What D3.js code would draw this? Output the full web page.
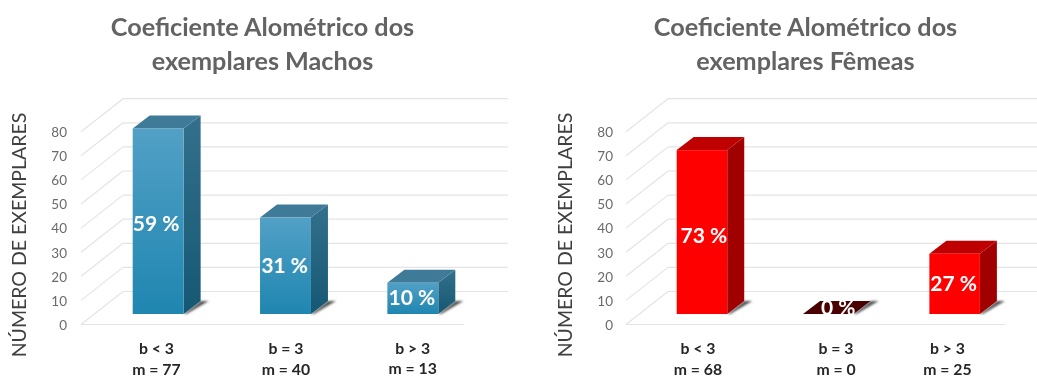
<!DOCTYPE html>
<html>
<head>
<meta charset="utf-8">
<script src="https://cdn.jsdelivr.net/npm/d3@7"></script>
<style>
  body { margin: 0; background: #fff; }
  svg { display: block; filter: blur(0.4px); }
  text { font-family: Lato, "Open Sans", sans-serif; }
</style>
</head>
<body>
<div id="grafico"></div>
<script>
// Datos de los dos paneles
var categorias = ["b < 3", "b = 3", "b > 3"];
var machosValores = [77, 40, 13];
var femeasValores = [68, 0, 25];
var machosEtiquetas = ["m = 77", "m = 40", "m = 13"];
var femeasEtiquetas = ["m = 68", "m = 0", "m = 25"];
var machosPorcentajes = ["59 %", "31 %", "10 %"];
var femeasPorcentajes = ["73 %", "0 %", "27 %"];
var machosTitulo = ["Coeficiente Alométrico dos", "exemplares Machos"];
var femeasTitulo = ["Coeficiente Alométrico dos", "exemplares Fêmeas"];
var ticksY = [0, 10, 20, 30, 40, 50, 60, 70, 80];
var lineasFondo = [0, 10, 20, 30, 40, 50, 60, 70, 80];
var tituloEjeY = "NÚMERO DE EXEMPLARES";

var svg = d3.select("#grafico").append("svg").attr("width", 1037).attr("height", 376);
var defs = svg.append("defs");

function degradado(id, arriba, abajo) {
    var g = defs.append("linearGradient").attr("id", id)
        .attr("x1", 0).attr("y1", 0).attr("x2", 0).attr("y2", 1);
    g.append("stop").attr("offset", "0%").attr("stop-color", arriba);
    g.append("stop").attr("offset", "100%").attr("stop-color", abajo);
}
degradado("azulFrente", "#52a0c6", "#1f86b0");
degradado("azulLado", "#33708c", "#155873");
defs.append("filter").attr("id", "difuso").append("feGaussianBlur").attr("stdDeviation", 1);

// Profundidad de la perspectiva
var fondoX = 42, fondoY = 33;
var barraX = 17, barraY = 13;

function panel(config) {
    var g = svg.append("g").attr("transform", "translate(" + config.x + ",0)");

    var xBarras = d3.scaleBand().domain(categorias).range(config.rangoBarras)
        .paddingInner(0.6).paddingOuter(0.3);
    var y = d3.scaleLinear().domain([0, 80]).range([314, 121.2]);

    var frenteDy = 10.5;
    var atrasDy = frenteDy - fondoY;

    // Cuadrícula: pared lateral, pared de fondo y borde del suelo
    g.selectAll(".diagonal").data(lineasFondo).enter().append("line")
        .attr("x1", 0).attr("y1", d => y(d) + frenteDy)
        .attr("x2", fondoX).attr("y2", d => y(d) + atrasDy)
        .attr("stroke", "#e4e4e4").attr("stroke-width", 1.2);
    g.selectAll(".fondo").data(lineasFondo).enter().append("line")
        .attr("x1", fondoX).attr("y1", d => y(d) + atrasDy)
        .attr("x2", config.finFondo).attr("y2", d => y(d) + atrasDy)
        .attr("stroke", "#e4e4e4").attr("stroke-width", 1.2);
    g.append("line")
        .attr("x1", 0).attr("y1", y(0) + frenteDy)
        .attr("x2", config.finSuelo).attr("y2", y(0) + frenteDy)
        .attr("stroke", "#e4e4e4").attr("stroke-width", 1.2);

    // Eje Y
    var ejeY = d3.axisLeft(d3.scaleLinear().domain([0, 80]).range([y(0) + frenteDy + 0.5, y(80) + frenteDy + 0.5]))
        .tickValues(ticksY).tickSize(0).tickPadding(0);
    var ejeG = g.append("g").attr("transform", "translate(" + config.xTicks + ",0)").call(ejeY);
    ejeG.select(".domain").remove();
    ejeG.selectAll("text").attr("fill", "#6a6a6a").style("font-size", "13.5px");

    g.append("text")
        .attr("transform", "translate(" + config.xTituloEje + ",235) rotate(-90)")
        .attr("text-anchor", "middle")
        .attr("fill", "#404040")
        .style("font-size", "19.5px")
        .text(tituloEjeY);

    // Barras
    var barras = g.selectAll(".barra").data(config.valores).enter().append("g").attr("class", "barra");

    // Sombra sobre el suelo
    barras.append("polygon")
        .attr("points", (d, i) => {
            var x1 = xBarras(categorias[i]) + xBarras.bandwidth();
            var b = y(0);
            return [[x1, b], [x1 + barraX, b - barraY], [x1 + barraX + 8, b - barraY], [x1 + 3, b]].join(" ");
        })
        .attr("fill", "#555").attr("filter", "url(#difuso)");

    // Cara lateral
    barras.append("polygon")
        .attr("points", (d, i) => {
            var x1 = xBarras(categorias[i]) + xBarras.bandwidth();
            return [[x1, y(d)], [x1 + barraX, y(d) - barraY], [x1 + barraX, y(0) - barraY], [x1, y(0)]].join(" ");
        })
        .attr("fill", config.lado);

    // Cara superior
    barras.append("polygon")
        .attr("points", (d, i) => {
            var x0 = xBarras(categorias[i]);
            var x1 = x0 + xBarras.bandwidth();
            return [[x0, y(d)], [x0 + barraX, y(d) - barraY], [x1 + barraX, y(d) - barraY], [x1, y(d)]].join(" ");
        })
        .attr("fill", d => d === 0 ? config.ceroTapa : config.tapa);

    // Cara frontal
    barras.append("rect")
        .attr("x", (d, i) => xBarras(categorias[i]))
        .attr("y", d => y(d))
        .attr("width", xBarras.bandwidth())
        .attr("height", d => y(0) - y(d))
        .attr("fill", config.frente);

    // Porcentajes
    barras.append("text")
        .attr("x", (d, i) => xBarras(categorias[i]) + xBarras.bandwidth() / 2 + config.dxPct[i])
        .attr("y", (d, i) => (y(d) + y(0)) / 2 + config.dyPct[i])
        .attr("text-anchor", "middle")
        .attr("fill", "#fff")
        .style("font-size", "21px")
        .style("font-weight", 700)
        .text((d, i) => config.porcentajes[i]);

    // Etiquetas de categoría
    g.selectAll(".cat").data(categorias).enter().append("text")
        .attr("x", (d, i) => config.xCat[i])
        .attr("y", (d, i) => config.yCat[i])
        .attr("text-anchor", "middle")
        .attr("fill", "#262626")
        .style("font-size", "15.8px")
        .style("font-weight", 700)
        .text(d => d);
    g.selectAll(".m").data(config.etiquetas).enter().append("text")
        .attr("x", (d, i) => config.xCat[i])
        .attr("y", (d, i) => config.yCat[i] + 20.5)
        .attr("text-anchor", "middle")
        .attr("fill", "#262626")
        .style("font-size", "15.8px")
        .style("font-weight", 700)
        .text(d => d);

    // Título
    g.selectAll(".titulo").data(config.titulo).enter().append("text")
        .attr("x", config.tituloX)
        .attr("y", (d, i) => 36 + i * 34)
        .attr("text-anchor", "middle")
        .attr("fill", "#636363")
        .style("font-size", "25.2px")
        .style("font-weight", 700)
        .text(d => d);
}

panel({
    x: 81,
    rangoBarras: [13.5, 395.5],
    finFondo: 427,
    finSuelo: 383,
    xTicks: -14,
    xTituloEje: -55,
    valores: machosValores,
    porcentajes: machosPorcentajes,
    etiquetas: machosEtiquetas,
    titulo: machosTitulo,
    tituloX: 181.5,
    frente: "url(#azulFrente)",
    lado: "url(#azulLado)",
    tapa: "#3f7a98",
    ceroTapa: "#3f7a98",
    dxPct: [-2, -1, -1],
    dyPct: [10, 6.7, 6.6],
    xCat: [75.5, 205, 331.7],
    yCat: [354, 354, 353.5]
});

panel({
    x: 626,
    rangoBarras: [12.8, 391.8],
    finFondo: 411,
    finSuelo: 379,
    xTicks: -13,
    xTituloEje: -54,
    valores: femeasValores,
    porcentajes: femeasPorcentajes,
    etiquetas: femeasEtiquetas,
    titulo: femeasTitulo,
    tituloX: 179.5,
    frente: "#ff0000",
    lado: "#a00000",
    tapa: "#bf0000",
    ceroTapa: "#4a0000",
    dxPct: [2, 10, -1],
    dyPct: [11, 1, 7],
    xCat: [72, 210, 321.5],
    yCat: [354, 354, 354]
});
</script>
</body>
</html>
